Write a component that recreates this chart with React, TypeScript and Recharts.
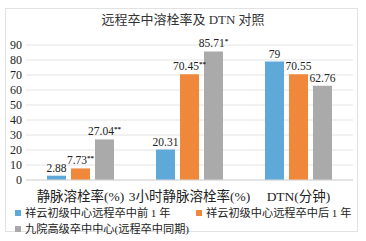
import { Bar, BarChart, CartesianGrid, LabelList, XAxis, YAxis } from 'recharts';

const categories = ['静脉溶栓率(%)', '3小时静脉溶栓率(%)', 'DTN(分钟)'];
const before = [2.88, 20.31, 79];
const after = [7.73, 70.45, 70.55];
const ninth = [27.04, 85.71, 62.76];
const afterMarks = ['**', '**', ''];
const ninthMarks = ['**', '*', ''];
const yTicks = [0, 10, 20, 30, 40, 50, 60, 70, 80, 90];

const seriesNames = ['祥云初级中心远程卒中前 1 年', '祥云初级中心远程卒中后 1 年', '九院高级卒中中心(远程卒中同期)'];
const colors = ['#5ea9d8', '#f0883c', '#aaaaaa'];

const data = categories.map((name, i) => ({
  name,
  before: before[i],
  after: after[i],
  ninth: ninth[i],
}));

const FONT = "'Liberation Serif', 'Noto Sans CJK SC', serif";

function makeLabel(marks: string[] | null) {
  return (props: any) => {
    const { x, y, width, value, index } = props;
    const mark = marks ? marks[index] : '';
    return (
      <text
        x={x + width / 2}
        y={y - 4}
        textAnchor="middle"
        fontSize={11.5}
        fill="#222"
        fontFamily={FONT}
      >
        {value}
        {mark ? (
          <tspan fontSize={7} dy={-4} fontWeight="bold">
            {mark}
          </tspan>
        ) : null}
      </text>
    );
  };
}

function LegendBox() {
  const item = (i: number, left: number, top: number) => (
    <div style={{ position: 'absolute', left, top, display: 'flex', alignItems: 'center', whiteSpace: 'nowrap', height: 14 }}>
      <span style={{ width: 6, height: 6, background: colors[i], marginRight: 4, display: 'inline-block' }} />
      <span style={{ fontSize: 11.2, color: '#222', lineHeight: '14px' }}>{seriesNames[i]}</span>
    </div>
  );
  return (
    <div style={{ position: 'absolute', left: 0, top: 206, width: 366, height: 34, fontFamily: FONT }}>
      {item(0, 15, 0)}
      {item(1, 196, 0)}
      {item(2, 15, 16)}
    </div>
  );
}

export default function App() {
  return (
    <div style={{ position: 'absolute', left: 0, top: 0, width: 366, height: 241, background: '#fff', fontFamily: FONT }}>
      <div
        style={{
          position: 'absolute',
          left: 5,
          top: 8,
          width: 353,
          height: 224,
          border: '1px solid #e2e2e2',
          boxSizing: 'border-box',
        }}
      />
      <div
        style={{
          position: 'absolute',
          left: 0,
          top: 9,
          width: 366,
          textAlign: 'center',
          fontSize: 13,
          color: '#333',
        }}
      >
        远程卒中溶栓率及 DTN 对照
      </div>
      <BarChart
        width={366}
        height={241}
        data={data}
        margin={{ top: 45, right: 13, bottom: 31, left: 0 }}
        barSize={19}
        barGap={5}
        style={{ position: 'absolute', left: 0, top: 0 }}
      >
        <CartesianGrid stroke="#e4e4e4" vertical={false} />
        <XAxis
          dataKey="name"
          height={30}
          axisLine={{ stroke: '#d8d8d8' }}
          tickLine={false}
          interval={0}
          tick={{ fontSize: 13.5, fill: '#222', fontFamily: FONT }}
          tickMargin={5}
        />
        <YAxis
          domain={[0, 90]}
          ticks={yTicks}
          interval={0}
          width={26}
          axisLine={false}
          tickLine={false}
          tickSize={4}
          tickMargin={0}
          tick={{ fontSize: 12, fill: '#222', fontFamily: FONT }}
        />
        <Bar dataKey="before" fill={colors[0]} isAnimationActive={false}>
          <LabelList dataKey="before" content={makeLabel(null)} />
        </Bar>
        <Bar dataKey="after" fill={colors[1]} isAnimationActive={false}>
          <LabelList dataKey="after" content={makeLabel(afterMarks)} />
        </Bar>
        <Bar dataKey="ninth" fill={colors[2]} isAnimationActive={false}>
          <LabelList dataKey="ninth" content={makeLabel(ninthMarks)} />
        </Bar>
      </BarChart>
      <LegendBox />
    </div>
  );
}
